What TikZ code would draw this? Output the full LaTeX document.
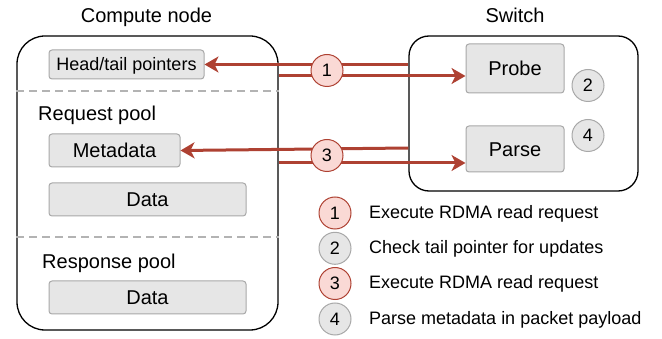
\documentclass[tikz,border=0pt]{standalone}
\usepackage{fontspec}
\setmainfont{Liberation Sans}
\usetikzlibrary{arrows.meta}
\definecolor{arr}{HTML}{AE4132}
\definecolor{redfill}{HTML}{FAD9D5}
\definecolor{grayfill}{HTML}{E6E6E6}
\definecolor{grayline}{HTML}{A8A8A8}
\definecolor{dashgray}{HTML}{B3B3B3}
\begin{document}
\begin{tikzpicture}[x=1pt,y=-1pt,
  bigtext/.style={font=\fontsize{20}{24}\selectfont},
  smalltext/.style={font=\fontsize{18}{22}\selectfont},
  container/.style={draw=black, line width=1.3pt, rounded corners=#1, inner sep=0pt},
  item/.style={draw=grayline, fill=grayfill, line width=1pt, rounded corners=3pt, inner sep=0pt,
    bigtext, text height=14.3pt, text depth=0pt},
  label/.style={inner sep=0pt},
  stepbase/.style={circle, line width=1pt, minimum size=32pt, inner sep=0pt,
    smalltext, text height=12.9pt, text depth=0pt},
  redstep/.style={stepbase, draw=arr, fill=redfill},
  graystep/.style={stepbase, draw=grayline, fill=grayfill},
  link/.style={draw=arr, line width=3pt},
  linkarrow/.style={link, -{Stealth[length=14pt,width=16pt,inset=4pt]}},
  sep/.style={draw=dashgray, line width=2pt, dash pattern=on 8pt off 5pt}
]
\useasboundingbox (0,0) rectangle (662,339);

% titles
\node[label, bigtext, anchor=base] (cntitle) at (146.5,23) {Compute node};
\node[label, bigtext, anchor=base] (swtitle) at (515,23) {Switch};

% containers
\node[container=28pt, minimum width=261pt, minimum height=294pt] (cn) at (147.5,183) {};
\node[container=20pt, minimum width=229pt, minimum height=155pt] (sw) at (523.5,113.5) {};

% separators
\coordinate (d1) at (0,91);
\coordinate (d2) at (0,237);
\draw[sep] (cn.west |- d1) -- (cn.east |- d1);
\draw[sep] (cn.west |- d2) -- (cn.east |- d2);

% compute node items
\node[item, minimum width=155pt, minimum height=29pt, smalltext, text height=12.9pt] (ht) at (126.5,64.5) {Head/tail pointers};
\node[label, bigtext, anchor=base west] (reqpool) at (38,121) {Request pool};
\node[item, minimum width=131pt, minimum height=33pt] (meta) at (114.5,150.5) {Metadata};
\node[item, minimum width=197pt, minimum height=33pt] (data1) at (147.5,199.5) {Data};
\node[label, bigtext, anchor=base west] (resppool) at (42,269) {Response pool};
\node[item, minimum width=197pt, minimum height=33pt] (data2) at (147.5,297.5) {Data};

% switch items
\node[item, minimum width=98pt, minimum height=49pt] (probe) at (515,68.5) {Probe};
\node[item, minimum width=98pt, minimum height=46pt] (parse) at (515,149) {Parse};

% connectors
\coordinate (a1out) at (ht.east -| sw.west);
\draw[linkarrow] (a1out) -- (ht.east);
\coordinate (p1in) at ([yshift=-7.5pt]probe.west);
\coordinate (p1out) at (p1in -| cn.east);
\draw[linkarrow] (p1out) -- (p1in);

\coordinate (m3a) at ([yshift=2.5pt]meta.east -| sw.west);
\draw[linkarrow] (m3a) -- (meta.east);
\coordinate (p3in) at ([yshift=-14pt]parse.west);
\coordinate (p3out) at (p3in -| cn.east);
\draw[linkarrow] (p3out) -- (p3in);

% step markers
\node[redstep] (s1) at (327,70.5) {1};
\node[redstep] (s3) at (327,155.5) {3};
\node[graystep] (s2) at (588,85.5) {2};
\node[graystep] (s4) at (588,135.5) {4};

% legend
\node[redstep] (l1) at (335,213) {1};
\node[graystep] (l2) at (335,248.3) {2};
\node[redstep] (l3) at (335,283.5) {3};
\node[graystep] (l4) at (335,319) {4};
\node[label, smalltext, anchor=base west] (t1) at (369,218.5) {Execute RDMA read request};
\node[label, smalltext, anchor=base west] (t2) at (369,253.6) {Check tail pointer for updates};
\node[label, smalltext, anchor=base west] (t3) at (369,288.8) {Execute RDMA read request};
\node[label, smalltext, anchor=base west] (t4) at (369,324.3) {Parse metadata in packet payload};
\end{tikzpicture}
\end{document}
